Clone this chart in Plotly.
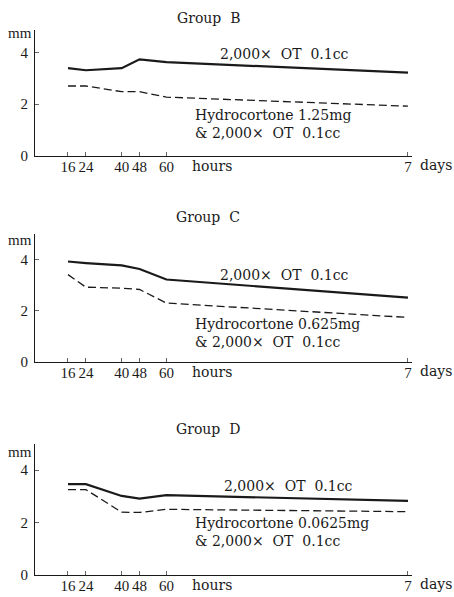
import plotly.graph_objects as go

hours = [16, 24, 40, 48, 60, 168]
tick_labels = ["16", "24", "40", "48", "60", "7"]

groups = ["B", "C", "D"]
ot_only = {
    "B": [3.39, 3.31, 3.39, 3.73, 3.62, 3.22],
    "C": [3.92, 3.86, 3.77, 3.63, 3.22, 2.51],
    "D": [3.47, 3.47, 3.02, 2.92, 3.05, 2.83],
}
hydro = {
    "B": [2.70, 2.70, 2.48, 2.48, 2.27, 1.92],
    "C": [3.41, 2.92, 2.88, 2.83, 2.30, 1.74],
    "D": [3.26, 3.26, 2.40, 2.39, 2.51, 2.42],
}
hydro_dose = {"B": "1.25mg", "C": "0.625mg", "D": "0.0625mg"}
ot_label = "2,000×  OT  0.1cc"

W, H = 454, 597
SERIF = "DejaVu Serif, serif"
TIMES = "Liberation Serif, Times New Roman, serif"
INK = "#1a1a1a"

panels = {
    "B": dict(y0=158, ytop=30, ymax=4.88, title_y=18, mm_y=33,
              ot_pos=(83.1, 3.92), hy_pos=(71.9, 1.22)),
    "C": dict(y0=367, ytop=237, ymax=5.0, title_y=220, mm_y=243,
              ot_pos=(83.1, 3.38), hy_pos=(71.9, 1.12)),
    "D": dict(y0=583, ytop=450, ymax=5.0, title_y=435, mm_y=458,
              ot_pos=(84.8, 3.38), hy_pos=(71.9, 1.65)),
}

x_left_px, x_right_px = 35, 412
x_range = [1.25, 169.8]

fig = go.Figure()
layout = dict(
    width=W, height=H,
    margin=dict(l=0, r=0, t=0, b=0),
    paper_bgcolor="white", plot_bgcolor="white",
    showlegend=False,
    font=dict(family=SERIF, size=14, color=INK),
)
annotations = []

for i, g in enumerate(groups):
    p = panels[g]
    sfx = "" if i == 0 else str(i + 1)
    xa, ya = "x" + sfx, "y" + sfx
    fig.add_trace(go.Scatter(x=hours, y=ot_only[g], mode="lines",
                             line=dict(color=INK, width=2.2),
                             xaxis=xa, yaxis=ya))
    fig.add_trace(go.Scatter(x=hours, y=hydro[g], mode="lines",
                             line=dict(color=INK, width=1.3, dash="8px,4px"),
                             xaxis=xa, yaxis=ya))
    layout["xaxis" + sfx] = dict(
        domain=[x_left_px / W, x_right_px / W], range=x_range, anchor=ya,
        tickmode="array", tickvals=hours, ticktext=tick_labels,
        ticks="inside", ticklen=4, tickcolor="#666", tickwidth=1,
        ticklabelstandoff=-3,
        showline=True, linecolor=INK, linewidth=1.2, showgrid=False,
        zeroline=False, tickfont=dict(size=15, family=TIMES, color=INK),
        fixedrange=True,
    )
    layout["yaxis" + sfx] = dict(
        domain=[(H - p["y0"]) / H, (H - p["ytop"]) / H], range=[0, p["ymax"]],
        anchor=xa, tickmode="array", tickvals=[0, 2, 4],
        ticks="inside", ticklen=4, tickcolor="#666", tickwidth=1,
        ticklabelstandoff=3,
        showline=True, linecolor=INK, linewidth=1.2, showgrid=False,
        zeroline=False, tickfont=dict(size=15, family=TIMES, color=INK),
        fixedrange=True,
    )
    annotations += [
        dict(text="Group  " + g, xref="paper", yref="paper",
             x=208 / W, y=1 - p["title_y"] / H, showarrow=False,
             xanchor="center", yanchor="middle", font=dict(size=14)),
        dict(text="mm", xref="paper", yref="paper",
             x=34 / W, y=1 - p["mm_y"] / H, showarrow=False,
             xanchor="right", yanchor="middle", font=dict(size=15, family=TIMES)),
        dict(text="hours", xref="paper", yref="paper",
             x=190 / W, y=1 - (p["y0"] + 10) / H, showarrow=False,
             xanchor="left", yanchor="middle", font=dict(size=14)),
        dict(text="days", xref="paper", yref="paper",
             x=454 / W, y=1 - (p["y0"] + 9) / H, showarrow=False,
             xanchor="right", yanchor="middle", font=dict(size=14)),
        dict(text=ot_label, xref=xa, yref=ya, x=p["ot_pos"][0], y=p["ot_pos"][1],
             showarrow=False, xanchor="left", yanchor="middle",
             font=dict(size=14)),
        dict(text="Hydrocortone " + hydro_dose[g] + "<br>&amp; " + ot_label,
             xref=xa, yref=ya, x=p["hy_pos"][0], y=p["hy_pos"][1],
             showarrow=False, xanchor="left", yanchor="middle", align="left",
             font=dict(size=14)),
    ]

layout["annotations"] = annotations
fig.update_layout(**layout)
fig.write_html("out.html", config={"displayModeBar": False},
               post_script="document.body.style.margin='0';document.body.style.overflow='hidden';")
